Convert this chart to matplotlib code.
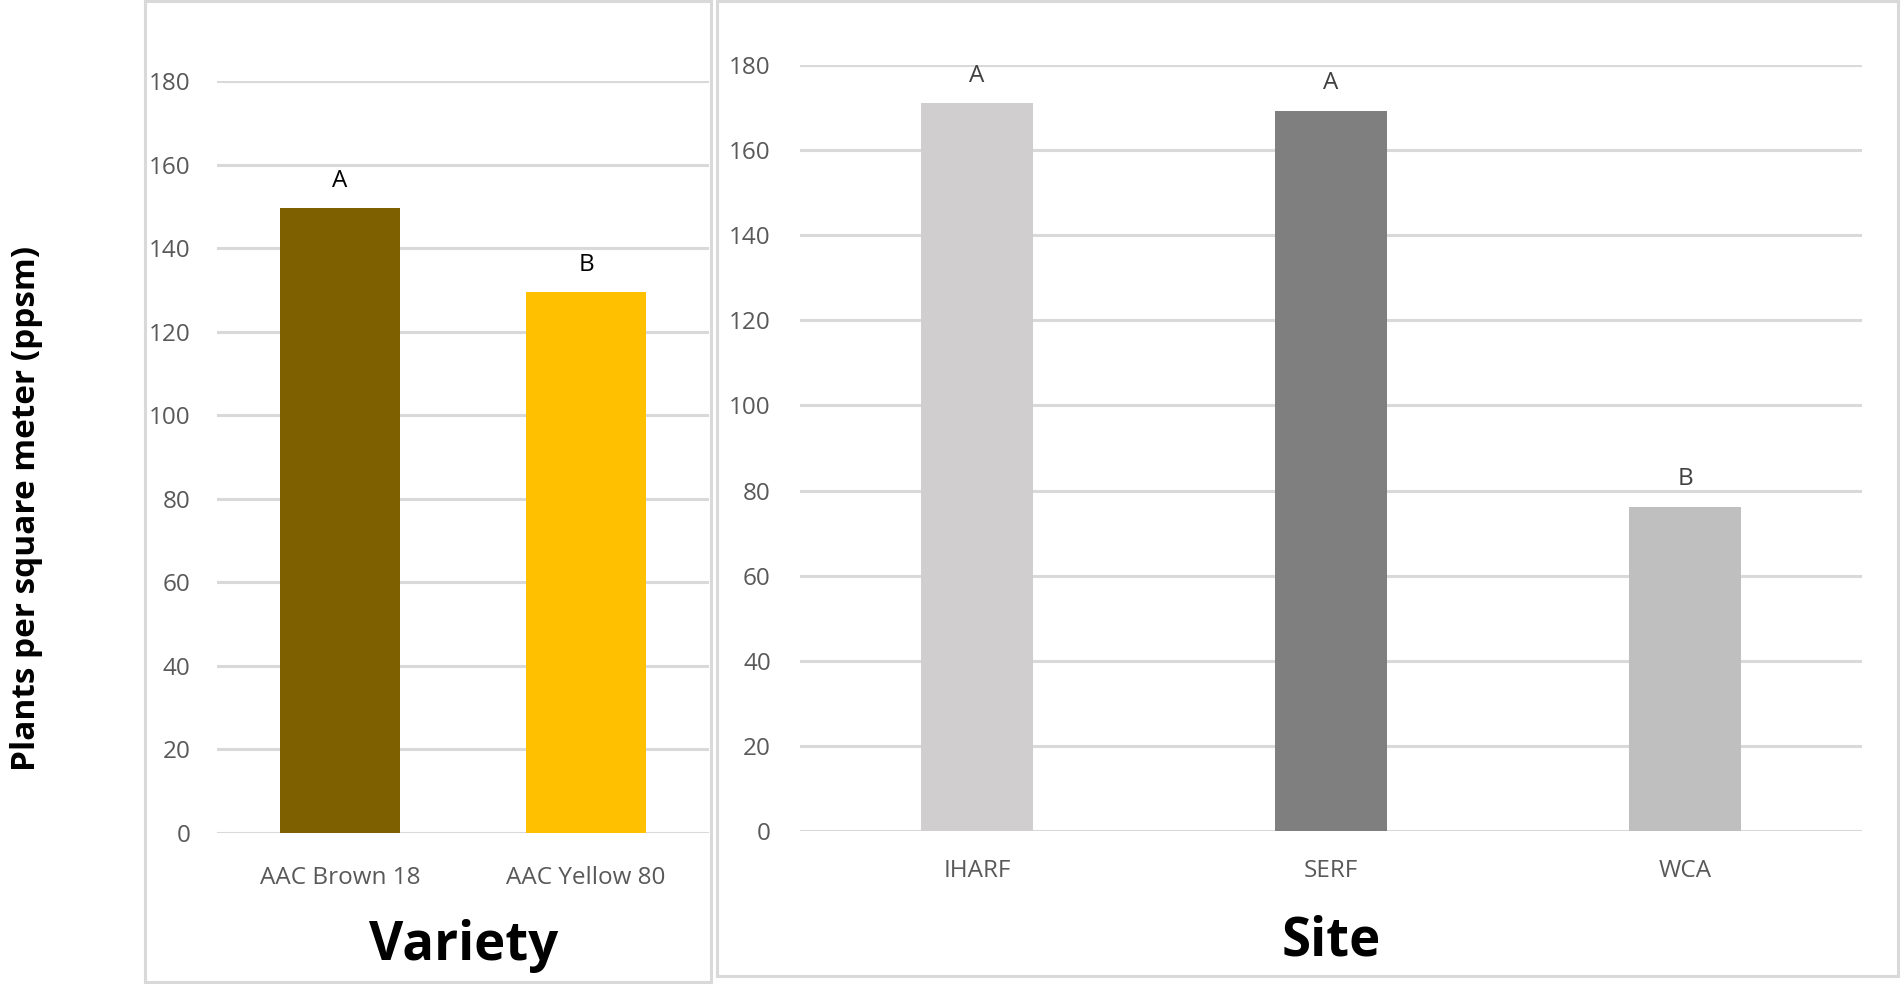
import matplotlib
matplotlib.use("Agg")
import matplotlib.pyplot as plt
from matplotlib.patches import Rectangle

# Data
varieties = ["AAC Brown 18", "AAC Yellow 80"]
variety_ppsm = [149.5, 129.5]
variety_letters = ["A", "B"]
variety_colors = ["#7F6000", "#FFC000"]

sites = ["IHARF", "SERF", "WCA"]
site_ppsm = [171.0, 169.3, 76.2]
site_letters = ["A", "A", "B"]
site_colors = ["#D0CECE", "#7F7F7F", "#BFBFBF"]

y_ticks = [0, 20, 40, 60, 80, 100, 120, 140, 160, 180]

plt.rcParams["font.family"] = ["Open Sans", "DejaVu Sans"]

W, H = 1901, 984
fig = plt.figure(figsize=(W / 100, H / 100), dpi=100)
fig.patch.set_facecolor("white")


def px_rect(x0, y0, x1, y1):
    """Convert a pixel box (top-left origin) to figure fractions [l, b, w, h]."""
    return [x0 / W, 1 - y1 / H, (x1 - x0) / W, (y1 - y0) / H]


GRID = "#D9D9D9"
TICK = "#595959"

# Panel frames
for (x0, y0, x1, y1) in [(145, 1, 711, 982), (717, 1, 1898, 976)]:
    l, b, w, h = px_rect(x0, y0, x1, y1)
    fig.add_artist(Rectangle((l, b), w, h, transform=fig.transFigure,
                             fill=False, edgecolor=GRID, linewidth=2.2))


def style_axes(ax, ypad, xpad):
    ax.set_ylim(0, 180)
    ax.set_yticks(y_ticks)
    ax.yaxis.grid(True, color=GRID, linewidth=2.2)
    ax.set_axisbelow(True)
    for s in ax.spines.values():
        s.set_visible(False)
    ax.tick_params(axis="both", length=0, labelsize=17.5, labelcolor=TICK)
    ax.tick_params(axis="y", pad=ypad)
    ax.tick_params(axis="x", pad=xpad)


# Variety panel
ax1 = fig.add_axes(px_rect(217, 81, 709, 833))
x1 = range(len(varieties))
ax1.bar(x1, variety_ppsm, width=0.49, color=variety_colors)
ax1.set_xlim(-0.5, len(varieties) - 0.5)
ax1.set_xticks(list(x1))
ax1.set_xticklabels(varieties)
style_axes(ax1, 19, 24)
for xi, v, lab in zip(x1, variety_ppsm, variety_letters):
    ax1.annotate(lab, (xi, v), xytext=(0, 11), textcoords="offset points",
                 ha="center", va="bottom", fontsize=17.5, color="black")

# Site panel
ax2 = fig.add_axes(px_rect(800, 65, 1862, 831))
x2 = range(len(sites))
ax2.bar(x2, site_ppsm, width=0.314, color=site_colors)
ax2.set_xlim(-0.5, len(sites) - 0.5)
ax2.set_xticks(list(x2))
ax2.set_xticklabels(sites)
style_axes(ax2, 21, 20)
for xi, v, lab in zip(x2, site_ppsm, site_letters):
    ax2.annotate(lab, (xi, v), xytext=(0, 11), textcoords="offset points",
                 ha="center", va="bottom", fontsize=17.5, color="#404040")

# Axis titles
fig.text(464 / W, 1 - 946 / H, "Variety", ha="center", va="center",
         fontsize=38, fontweight="bold", color="black")
fig.text(1331 / W, 1 - 942 / H, "Site", ha="center", va="center",
         fontsize=38, fontweight="bold", color="black")
fig.text(27 / W, 1 - 508 / H, "Plants per square meter (ppsm)", rotation=90,
         ha="center", va="center", fontsize=24, fontweight="bold", color="black")

fig.savefig("out.png", dpi=100, facecolor="white")
